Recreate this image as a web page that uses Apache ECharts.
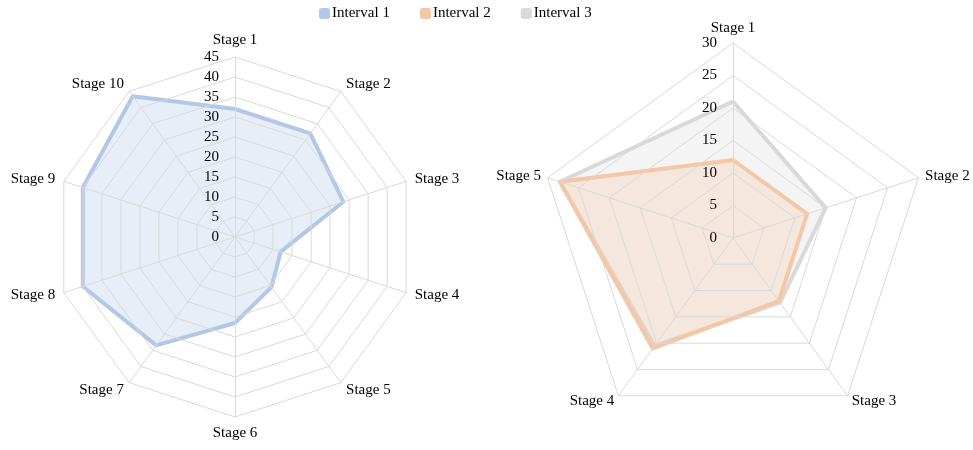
<!DOCTYPE html>
<html>
<head>
<meta charset="utf-8">
<script src="https://cdn.jsdelivr.net/npm/echarts@6/dist/echarts.min.js"></script>
<style>
	html, body { margin: 0; padding: 0; background: #fff; }
	#chart { width: 973px; height: 450px; }
</style>
</head>
<body>
<div id="chart"></div>
<script>
	// data
	const stagesLeft = ['Stage 1', 'Stage 2', 'Stage 3', 'Stage 4', 'Stage 5', 'Stage 6', 'Stage 7', 'Stage 8', 'Stage 9', 'Stage 10']
	const stagesRight = ['Stage 1', 'Stage 2', 'Stage 3', 'Stage 4', 'Stage 5']
	const interval1 = [32, 32, 28.5, 12, 15.5, 21.5, 33.5, 40, 40, 43.5]
	const interval2 = [12, 12, 12, 21, 28]
	const interval3 = [21, 15, 12.3, 20.5, 28]
	const leftMax = 45
	const rightMax = 30

	const font = '"Liberation Serif", "Times New Roman", serif'

	const tickLabel = {
		show: true,
		color: '#000',
		fontSize: 15,
		fontFamily: font,
		margin: 0,
		align: 'right',
		padding: [0, 16, 0, 0]
	}

	// echarts lays indicators out counterclockwise, the picture goes clockwise
	function clockwise(arr) {
		return [arr[0]].concat(arr.slice(1).reverse())
	}
	function indicators(names, max) {
		return clockwise(names).map(function (n, i) {
			const ind = { name: n, max: max, min: 0 }
			if (i === 0) {
				ind.axisLabel = tickLabel
			}
			return ind
		})
	}

	const radarCommon = {
		z: 3,
		startAngle: 90,
		shape: 'polygon',
		nameGap: 9,
		axisName: {
			color: '#000',
			fontSize: 15,
			fontFamily: font
		},
		axisLine: { lineStyle: { color: '#d9d9d9', width: 1 } },
		splitLine: { lineStyle: { color: '#d9d9d9', width: 1 } },
		splitArea: { show: false },
		axisTick: { show: false },
		axisLabel: { show: false }
	}

	function radarSeries(name, radarIndex, values, color) {
		return {
			name: name,
			type: 'radar',
			radarIndex: radarIndex,
			symbol: 'none',
			itemStyle: { color: color },
			lineStyle: { color: color, width: 4 },
			areaStyle: { color: color, opacity: 0.3 },
			data: [{
				name: name,
				value: clockwise(values)
			}]
		}
	}

	const chart = echarts.init(document.getElementById('chart'))
	chart.setOption({
		animation: false,
		legend: {
			top: 1,
			left: 314,
			itemWidth: 11,
			itemHeight: 11,
			itemGap: 30,
			icon: 'roundRect',
			data: ['Interval 1', 'Interval 2', 'Interval 3'],
			textStyle: { color: '#000', fontSize: 15, fontFamily: font, padding: [0, 0, 0, -3] }
		},
		radar: [
			Object.assign({}, radarCommon, {
				center: [235, 237],
				radius: 180,
				splitNumber: 9,
				indicator: indicators(stagesLeft, leftMax)
			}),
			Object.assign({}, radarCommon, {
				center: [733, 238],
				radius: 195,
				splitNumber: 6,
				nameGap: 7,
				indicator: indicators(stagesRight, rightMax)
			})
		],
		series: [
			radarSeries('Interval 1', 0, interval1, '#b4c7e7'),
			radarSeries('Interval 3', 1, interval3, '#d9d9d9'),
			radarSeries('Interval 2', 1, interval2, '#f4c7a6')
		]
	})
</script>
</body>
</html>
